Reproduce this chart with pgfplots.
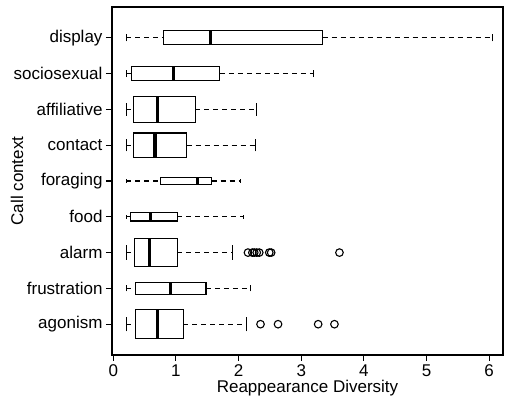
\documentclass[border=0pt]{standalone}
\usepackage{fontspec}
\setmainfont{Liberation Sans}
\usepackage{pgfplots}
\pgfplotsset{compat=1.18}
\usepgfplotslibrary{statistics}
\begin{document}
\begin{tikzpicture}
\begin{axis}[name=ax,
  scale only axis, width=391bp, height=348bp,
  xmin=-0.02, xmax=6.22, ymin=0.14, ymax=9.86,
  font=\fontsize{17bp}{20bp}\selectfont,
  /pgf/number format/assume math mode=true,
  xtick={0,1,2,3,4,5,6}, ytick={1,2,3,4,5,6,7,8,9},
  yticklabels={agonism,frustration,alarm,food,foraging,contact,affiliative,sociosexual,display},
  tick align=outside, tick pos=left, major tick length=6bp,
  axis line style={line width=1.1bp},
  every tick/.style={black, line width=1.1bp},
  xlabel={Reappearance Diversity}, ylabel={Call context},
  xlabel style={anchor=base, at={(axis description cs:0.5,-0.1092)}},
  ylabel style={anchor=base, at={(axis description cs:-0.2276,0.5)}},
  boxplot/draw direction=x,
  boxplot/every box/.style={draw=black, fill=white, line width=1.1bp},
  boxplot/every median/.style={draw=black, line width=3.2bp},
  boxplot/draw/lower whisker/.code={%
    \draw[black, line width=1.1bp, dash pattern=on 5bp off 4bp]
      (boxplot cs:\pgfplotsboxplotvalue{lower whisker}) --
      (boxplot cs:\pgfplotsboxplotvalue{lower quartile});
    \draw[black, line width=1.1bp, solid]
      (boxplot whisker cs:\pgfplotsboxplotvalue{lower whisker},0) --
      (boxplot whisker cs:\pgfplotsboxplotvalue{lower whisker},1);
  },
  boxplot/draw/upper whisker/.code={%
    \draw[black, line width=1.1bp, dash pattern=on 5bp off 4bp]
      (boxplot cs:\pgfplotsboxplotvalue{upper quartile}) --
      (boxplot cs:\pgfplotsboxplotvalue{upper whisker});
    \draw[black, line width=1.1bp, solid]
      (boxplot whisker cs:\pgfplotsboxplotvalue{upper whisker},0) --
      (boxplot whisker cs:\pgfplotsboxplotvalue{upper whisker},1);
  },
]
% display
\addplot[black, line width=1.1bp, mark=o, mark size=3.8bp, mark options={solid},
  boxplot prepared={draw position=9, lower whisker=0.21, lower quartile=0.80, median=1.55,
  upper quartile=3.34, upper whisker=6.05, box extend=0.40, whisker extend=0.20}] coordinates {};
% sociosexual
\addplot[black, line width=1.1bp, mark=o, mark size=3.8bp, mark options={solid},
  boxplot prepared={draw position=8, lower whisker=0.21, lower quartile=0.29, median=0.96,
  upper quartile=1.70, upper whisker=3.20, box extend=0.40, whisker extend=0.20}] coordinates {};
% affiliative
\addplot[black, line width=1.1bp, mark=o, mark size=3.8bp, mark options={solid},
  boxplot prepared={draw position=7, lower whisker=0.21, lower quartile=0.33, median=0.70,
  upper quartile=1.31, upper whisker=2.29, box extend=0.73, whisker extend=0.36}] coordinates {};
% contact
\addplot[black, line width=1.1bp, mark=o, mark size=3.8bp, mark options={solid},
  boxplot prepared={draw position=6, lower whisker=0.21, lower quartile=0.33, median=0.665,
  upper quartile=1.17, upper whisker=2.27, box extend=0.68, whisker extend=0.34}] coordinates {};
% foraging
\addplot[black, line width=1.1bp, mark=o, mark size=3.8bp, mark options={solid},
  boxplot prepared={draw position=5, lower whisker=0.21, lower quartile=0.75, median=1.34,
  upper quartile=1.57, upper whisker=2.03, box extend=0.19, whisker extend=0.10}] coordinates {};
% food
\addplot[black, line width=1.1bp, mark=o, mark size=3.8bp, mark options={solid},
  boxplot prepared={draw position=4, lower whisker=0.21, lower quartile=0.28, median=0.60,
  upper quartile=1.02, upper whisker=2.08, box extend=0.235, whisker extend=0.12}] coordinates {};
% alarm
\addplot[black, line width=1.1bp, mark=o, mark size=3.8bp, mark options={solid},
  boxplot prepared={draw position=3, lower whisker=0.21, lower quartile=0.34, median=0.58,
  upper quartile=1.02, upper whisker=1.90, box extend=0.79, whisker extend=0.40}]
  table[row sep=\\, y index=0] {x\\ 2.15\\ 2.22\\ 2.25\\ 2.29\\ 2.33\\ 2.49\\ 2.52\\ 3.61\\};
% frustration
\addplot[black, line width=1.1bp, mark=o, mark size=3.8bp, mark options={solid},
  boxplot prepared={draw position=2, lower whisker=0.21, lower quartile=0.36, median=0.92,
  upper quartile=1.48, upper whisker=2.19, box extend=0.34, whisker extend=0.17}] coordinates {};
% agonism
\addplot[black, line width=1.1bp, mark=o, mark size=3.8bp, mark options={solid},
  boxplot prepared={draw position=1, lower whisker=0.21, lower quartile=0.36, median=0.71,
  upper quartile=1.12, upper whisker=2.13, box extend=0.80, whisker extend=0.40}]
  table[row sep=\\, y index=0] {x\\ 2.35\\ 2.63\\ 3.27\\ 3.53\\};
\end{axis}
\pgfresetboundingbox
\path ([xshift=-112bp,yshift=-46bp]ax.south west) rectangle ([xshift=2bp,yshift=7bp]ax.north east);
\end{tikzpicture}
\end{document}
